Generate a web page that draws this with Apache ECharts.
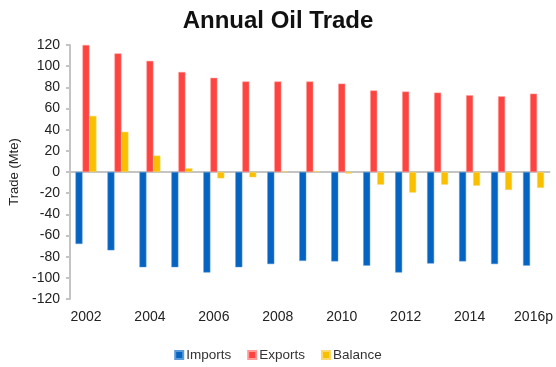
<!DOCTYPE html>
<html>
<head>
<meta charset="utf-8">
<script src="https://cdn.jsdelivr.net/npm/echarts@6/dist/echarts.min.js"></script>
<style>html,body{margin:0;padding:0;background:#fff}#c{width:556px;height:367px}</style>
</head>
<body>
<div id="c"></div>
<script>
const categories = ['2002','2003','2004','2005','2006','2007','2008','2009','2010','2011','2012','2013','2014','2015','2016p'];
const imports = [-68, -74, -90, -90, -95, -90, -87, -84, -84.5, -88.5, -95, -86.5, -84.5, -87, -88.5];
const exportsData = [120, 112, 105, 94.5, 89, 85.5, 85.5, 85.5, 83.5, 77, 76, 75, 72.5, 71.5, 74];
const balance = [53, 38, 15.5, 3.5, -6, -5, 0.3, 0.8, -1.5, -12, -19.5, -12, -13, -17, -15];
const yTicks = {min: -120, max: 120, interval: 20};

const chart = echarts.init(document.getElementById('c'), null, {renderer: 'canvas'});
const font = 'Liberation Sans, Arial, sans-serif';
chart.setOption({
  animation: false,
  title: {
    text: 'Annual Oil Trade',
    left: 'center',
    top: 4,
    textStyle: {fontFamily: font, fontWeight: 'bold', fontSize: 24, color: '#111'}
  },
  legend: {
    bottom: 0,
    left: 'center',
    itemWidth: 8,
    itemHeight: 8,
    itemGap: 16,
    icon: 'rect',
    textStyle: {fontFamily: font, fontSize: 13.5, color: '#333', padding: [0,0,0,-2]},
    data: ['Imports', 'Exports', 'Balance']
  },
  grid: {left: 70, right: 6, top: 45, bottom: 68, containLabel: false},
  xAxis: [
    {
      type: 'category',
      data: categories,
      position: 'bottom',
      axisLine: {show: false, onZero: false},
      axisTick: {show: false},
      axisLabel: {interval: 1, fontFamily: font, fontSize: 14, color: '#222', margin: 11}
    },
    {
      type: 'category',
      data: categories,
      position: 'bottom',
      axisLine: {show: true, onZero: true, lineStyle: {color: '#c4c4c4', width: 2}},
      axisTick: {show: false},
      axisLabel: {show: false}
    }
  ],
  yAxis: {
    type: 'value',
    min: yTicks.min,
    max: yTicks.max,
    interval: yTicks.interval,
    name: 'Trade (Mte)',
    nameLocation: 'middle',
    nameGap: 48,
    nameRotate: 90,
    nameTextStyle: {fontFamily: font, fontSize: 13, color: '#222'},
    axisLine: {show: true, lineStyle: {color: '#c4c4c4', width: 2}},
    axisTick: {show: true, length: 4, lineStyle: {color: '#c4c4c4', width: 2}},
    axisLabel: {fontFamily: font, fontSize: 14, color: '#222', margin: 10},
    splitLine: {show: false}
  },
  series: [
    {name: 'Imports', type: 'bar', data: imports, barWidth: 7, barGap: '0%',
     itemStyle: {color: '#0563c1', borderColor: '#5a9ad8', borderWidth: 0.5}},
    {name: 'Exports', type: 'bar', data: exportsData, barWidth: 7, barGap: '0%',
     itemStyle: {color: '#fd4440', borderColor: '#ff9a96', borderWidth: 0.5}},
    {name: 'Balance', type: 'bar', data: balance, barWidth: 7, barGap: '0%',
     itemStyle: {color: '#f8c000', borderColor: '#fcd970', borderWidth: 0.5}}
  ]
});
</script>
</body>
</html>
